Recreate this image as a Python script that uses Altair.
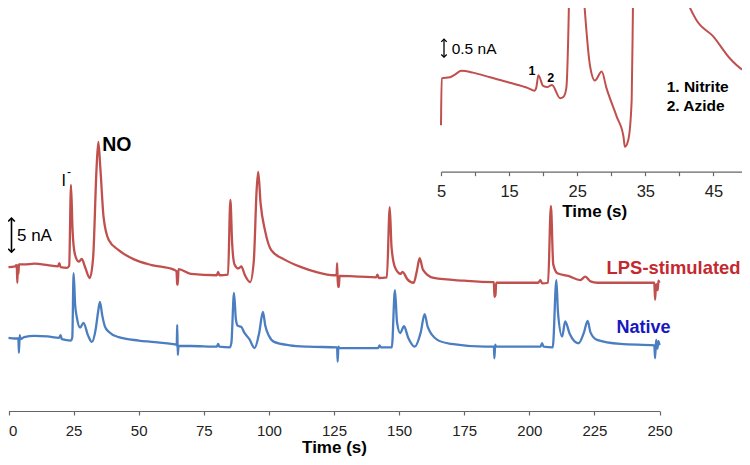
import altair as alt
import pandas as pd

FONT = "Liberation Sans, Arial, Helvetica, sans-serif"

# ---------------- main traces: time (s) and current (nA, incl. display offset) ----------------
red_t = [0.0, 2.5, 3.0, 3.2, 3.4, 3.6, 3.8, 4.0, 6.0, 10.0, 15.0, 19.0, 19.5, 20.0, 22.5, 23.3,
         24.0, 24.6, 25.5, 27.0, 28.1, 29.5, 31.2, 32.5, 33.8, 34.5, 35.3, 36.5, 38.5, 42.3, 48.4,
         55.0, 63.7, 64.5, 64.8, 65.0, 65.3, 70.0, 80.0, 80.5, 81.0, 84.3, 85.2, 85.9, 86.8, 88.3,
         89.4, 90.8, 92.8, 94.2, 95.3, 95.9, 96.8, 98.5, 100.9, 106.0, 112.4, 118.0, 125.0, 126.0,
         126.2, 126.5, 126.9, 127.1, 135.0, 141.2, 141.7, 142.2, 145.3, 146.4, 147.1, 148.5, 150.6,
         151.3, 153.2, 155.6, 156.8, 157.9, 159.2, 163.3, 175.0, 186.0, 186.4, 186.6, 187.0, 187.3,
         195.0, 203.5, 204.2, 205.0, 207.2, 208.3, 209.2, 210.8, 215.0, 219.6, 221.5, 223.5, 226.1,
         240.0, 248.0, 248.3, 248.7, 249.3, 249.6, 250.0]
red_v = [21.6, 21.7, 21.9, 21.5, 19.3, 21.9, 20.6, 22.0, 22.0, 22.1, 21.9, 21.7, 22.2, 21.6, 21.5, 21.8,
         33.7, 27.0, 23.5, 22.4, 22.8, 21.5, 20.0, 23.0, 36.0, 40.0, 36.0, 29.0, 25.6, 24.1, 22.7,
         21.9, 21.2, 21.0, 19.1, 19.0, 21.3, 20.6, 20.4, 20.9, 20.4, 20.5, 31.5, 25.0, 22.0, 21.4,
         21.7, 20.4, 19.4, 22.5, 33.0, 35.6, 31.0, 27.0, 24.1, 22.7, 21.6, 20.9, 20.4, 20.4,
         22.2, 18.7, 18.7, 20.3, 20.2, 20.1, 20.5, 20.0, 20.1, 30.4, 24.5, 21.5, 20.6,
         20.9, 19.8, 19.3, 21.0, 22.9, 21.2, 20.0, 19.6, 19.4, 19.4, 17.2, 17.5, 19.3,
         19.3, 19.3, 19.7, 19.2, 19.3, 30.6, 22.0, 20.7, 20.3, 19.7, 20.2, 19.5, 19.3,
         19.3, 19.3, 16.8, 19.1, 18.2, 19.6, 19.3]

blue_t = [0.0, 2.5, 3.8, 4.0, 4.3, 4.6, 6.0, 10.0, 15.0, 19.5, 20.0, 20.5, 24.0, 24.5, 25.0, 25.6,
          26.2, 27.5, 28.8, 30.5, 32.0, 33.5, 34.4, 35.1, 36.0, 37.0, 38.5, 42.3, 50.0, 55.0, 64.5,
          64.6, 64.8, 65.0, 65.3, 70.0, 80.0, 80.5, 81.0, 85.0, 85.6, 86.6, 87.3, 88.0, 89.4, 90.5,
          92.5, 94.5, 96.3, 97.7, 98.6, 100.0, 102.0, 108.0, 115.0, 126.2, 126.4, 126.7, 127.0,
          135.0, 142.0, 142.5, 143.0, 147.2, 148.4, 149.2, 150.4, 151.9, 153.5, 156.0, 158.3, 159.8,
          161.0, 164.7, 170.0, 183.0, 186.4, 186.6, 186.9, 187.2, 195.0, 204.3, 204.9, 205.5, 209.0,
          210.4, 211.0, 212.6, 213.8, 215.5, 218.9, 221.0, 222.4, 223.5, 226.0, 235.0, 248.0, 248.3,
          248.7, 249.2, 249.6, 250.0]
blue_v = [11.2, 11.1, 11.1, 9.0, 11.6, 11.0, 11.3, 11.5, 11.4, 11.2, 11.6, 11.0, 10.8, 11.3, 20.7, 16.0,
          14.3, 12.7, 13.4, 11.6, 10.6, 12.5, 15.0, 16.5, 14.5, 12.9, 12.1, 11.3, 10.8, 10.6, 10.2,
          10.1, 13.1, 8.7, 10.0, 10.0, 9.9, 10.3, 9.9, 9.8, 10.5, 17.8, 14.0, 13.0, 12.8, 12.0,
          11.0, 9.7, 12.0, 15.0, 13.0, 11.5, 10.6, 10.1, 9.9, 9.8, 7.7, 9.9, 9.7,
          9.7, 9.7, 10.1, 9.8, 9.8, 18.2, 13.5, 11.9, 12.9, 11.2, 9.9, 12.0, 14.7,
          12.8, 10.9, 10.3, 9.9, 9.9, 8.2, 10.2, 9.9, 9.9, 9.9, 10.4, 9.9, 9.8,
          19.7, 15.0, 11.4, 13.6, 11.8, 10.4, 12.0, 13.7, 12.0, 10.9, 10.3, 10.1, 8.2,
          10.9, 9.6, 10.7, 10.1]

# ---------------- inset: magnified first injection of the LPS trace ----------------
inset_t = [5.0, 5.1, 6.3, 7.0, 8.0, 9.7, 12.2, 15.1, 17.8, 18.7, 19.0, 19.3, 20.0, 20.6, 21.3, 22.5,
           23.0, 23.4, 23.8, 24.3, 25.0, 26.0, 26.9, 27.6, 28.6, 29.3, 30.8, 31.8, 32.0, 32.5, 33.0,
           33.2, 34.0, 34.6, 36.0, 38.0, 40.0, 41.2, 42.5, 45.0, 47.4, 49.4, 50.0]
inset_v = [1.3, 2.60, 2.63, 2.70, 2.81, 2.76, 2.63, 2.48, 2.33, 2.26, 2.35, 2.69, 2.39, 2.36, 2.42, 2.05,
           2.09, 2.33, 4.8, 12.0, 8.0, 4.8, 2.93, 2.54, 2.79, 2.33, 1.54, 0.98, 0.70, 0.89, 2.0,
           4.8, 15.0, 25.0, 15.0, 8.0, 5.5, 4.73, 4.22, 3.76, 3.16, 2.83, 2.79]

main_ticks = [0, 25, 50, 75, 100, 125, 150, 175, 200, 225, 250]
inset_ticks = [5, 10, 15, 20, 25, 30, 35, 40, 45, 50]

RED_LINE = "#C0504D"
BLUE_LINE = "#4A7EC0"
RED_TEXT = "#C3292E"
BLUE_TEXT = "#1818C0"
AXIS_COL = "#666666"

red_df = pd.DataFrame({"t": red_t, "v": red_v})
blue_df = pd.DataFrame({"t": blue_t, "v": blue_v})
inset_df = pd.DataFrame({"t": inset_t, "v": inset_v})

main_axis = alt.Axis(values=main_ticks, title="Time (s)", grid=False, domain=True, ticks=True, labels=True,
                     labelFont=FONT, labelFontSize=15, labelColor="#222222",
                     labelAlign={"condition": {"test": "datum.value === 0", "value": "left"}, "value": "center"},
                     labelBaseline="alphabetic", labelPadding=20, labelFlush=False, labelOverlap=False,
                     tickSize=4, tickColor=AXIS_COL, tickWidth=1.2,
                     domainColor=AXIS_COL, domainWidth=1.2,
                     titleFont=FONT, titleFontSize=17, titleFontWeight="bold", titleColor="black",
                     titleBaseline="alphabetic", titleY=41.5)

inset_axis = alt.Axis(orient="bottom", offset=-239.3, values=inset_ticks, title="Time (s)", grid=False,
                      domain=True, ticks=True, labels=True,
                      labelExpr="datum.value % 10 == 5 ? datum.label : ''",
                      labelFont=FONT, labelFontSize=16.5, labelColor="#222222",
                      labelBaseline="alphabetic", labelPadding=21, labelFlush=False, labelOverlap=False,
                      tickSize=4, tickColor=AXIS_COL, tickWidth=1.2,
                      domainColor=AXIS_COL, domainWidth=1.2,
                      titleFont=FONT, titleFontSize=17, titleFontWeight="bold", titleColor="black",
                      titleBaseline="alphabetic", titleY=44.3)


def mx():
    return alt.X("t:Q", scale=alt.Scale(domain=[0, 250], range=[0.5, 651.5], nice=False, zero=False),
                 axis=main_axis)


def my(field="v"):
    return alt.Y(f"{field}:Q", scale=alt.Scale(domain=[0, 59.7], range=[406, 0], nice=False, zero=False),
                 axis=None)


def ix():
    return alt.X("t:Q", scale=alt.Scale(domain=[5, 50], range=[433, 739.45], nice=False, zero=False),
                 axis=inset_axis)


def iy(field="v"):
    return alt.Y(f"{field}:Q", scale=alt.Scale(domain=[0, 4.5], range=[164, 2], nice=False, zero=False),
                 axis=None)


def txt(df, enc_x, enc_y, **kw):
    return alt.Chart(df).mark_text(font=FONT, **kw).encode(x=enc_x, y=enc_y, text="label:N")


red_line = alt.Chart(red_df).mark_line(color=RED_LINE, strokeWidth=2.3, interpolate="monotone").encode(
    x=mx(), y=my())
blue_line = alt.Chart(blue_df).mark_line(color=BLUE_LINE, strokeWidth=2.3, interpolate="monotone").encode(
    x=mx(), y=my())

# main annotations
lab_I = txt(pd.DataFrame({"t": [21.2], "v": [34.3], "label": ["I"]}), mx(), my(),
            fontSize=16, align="center", baseline="middle", color="black")
lab_minus = txt(pd.DataFrame({"t": [23.2], "v": [35.6], "label": ["-"]}), mx(), my(),
                fontSize=12, align="center", baseline="middle", color="black")
lab_NO = txt(pd.DataFrame({"t": [41.6], "v": [39.56], "label": ["NO"]}), mx(), my(),
             fontSize=19.5, fontWeight="bold", align="center", baseline="middle", color="black")
lab_5nA = txt(pd.DataFrame({"t": [3.26], "v": [26.2], "label": ["5 nA"]}), mx(), my(),
              fontSize=17, align="left", baseline="middle", color="black")
lab_lps = txt(pd.DataFrame({"t": [255.4], "v": [21.4], "label": ["LPS-stimulated"]}), mx(), my(),
              fontSize=18.4, fontWeight="bold", align="center", baseline="middle", color=RED_TEXT)
lab_nat = txt(pd.DataFrame({"t": [243.9], "v": [12.6], "label": ["Native"]}), mx(), my(),
              fontSize=18, fontWeight="bold", align="center", baseline="middle", color=BLUE_TEXT)

bar_df = pd.DataFrame({"t": [1.15], "v": [23.8], "v2": [28.8]})
bar_rule = alt.Chart(bar_df).mark_rule(color="black", strokeWidth=1.6).encode(
    x=mx(), y=my(), y2=alt.Y2("v2:Q"))
bar_up = alt.Chart(bar_df).mark_point(shape="M-1,1L0,0L1,1", filled=False, size=45, color="black",
                                      strokeWidth=1.6, opacity=1).encode(x=mx(), y=my("v2"))
bar_dn = alt.Chart(bar_df).mark_point(shape="M-1,-1L0,0L1,-1", filled=False, size=45, color="black",
                                      strokeWidth=1.6, opacity=1).encode(x=mx(), y=my("v"))

main = alt.layer(red_line, blue_line, lab_I, lab_minus, lab_NO, lab_5nA, lab_lps, lab_nat,
                 bar_rule, bar_up, bar_dn)

# inset
inset_line = alt.Chart(inset_df).mark_line(color=RED_LINE, strokeWidth=2.0, clip=True,
                                           interpolate="monotone").encode(x=ix(), y=iy())
ilab_scale = txt(pd.DataFrame({"t": [6.57], "v": [3.42], "label": ["0.5 nA"]}), ix(), iy(),
                 fontSize=15.5, align="left", baseline="middle", color="black")
ilab_peaks = txt(pd.DataFrame({"t": [18.36, 21.12], "v": [2.81, 2.62], "label": ["1", "2"]}), ix(), iy(),
                 fontSize=12.5, fontWeight="bold", align="center", baseline="middle", color="black")
ilab_key = txt(pd.DataFrame({"t": [38.14, 38.14], "v": [2.36, 1.83], "label": ["1. Nitrite", "2. Azide"]}),
               ix(), iy(), fontSize=15.5, fontWeight="bold", align="left", baseline="middle", color="black")
ibar_df = pd.DataFrame({"t": [5.44], "v": [3.19], "v2": [3.69]})
ibar_rule = alt.Chart(ibar_df).mark_rule(color="black", strokeWidth=1.3).encode(
    x=ix(), y=iy(), y2=alt.Y2("v2:Q"))
ibar_up = alt.Chart(ibar_df).mark_point(shape="M-1,1L0,0L1,1", filled=False, size=30, color="black",
                                        strokeWidth=1.3, opacity=1).encode(x=ix(), y=iy("v2"))
ibar_dn = alt.Chart(ibar_df).mark_point(shape="M-1,-1L0,0L1,-1", filled=False, size=30, color="black",
                                        strokeWidth=1.3, opacity=1).encode(x=ix(), y=iy("v"))

inset = alt.layer(inset_line, ilab_scale, ilab_peaks, ilab_key, ibar_rule, ibar_up, ibar_dn)

chart = (alt.layer(main, inset)
         .resolve_scale(x="independent", y="independent")
         .properties(width=734, height=403,
                     padding={"left": 0, "top": 0, "right": 0, "bottom": 46},
                     autosize=alt.AutoSizeParams(type="none"))
         .configure(font=FONT)
         .configure_view(strokeWidth=0, stroke="transparent")
         .configure_axis(grid=False))

chart.save("out.html", embed_options={"renderer": "svg", "actions": False})
